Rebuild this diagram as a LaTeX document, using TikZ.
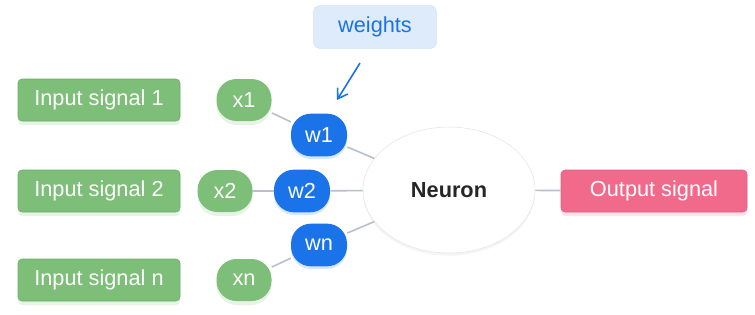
\documentclass[tikz,border=0pt]{standalone}
\usepackage{fontspec}
\setmainfont{Liberation Sans}
\usetikzlibrary{arrows.meta,shadows,shapes.geometric}
\definecolor{sigGreen}{HTML}{7DBE78}
\definecolor{sigGreenLine}{HTML}{6AAE66}
\definecolor{wBlue}{HTML}{1A73E8}
\definecolor{outPink}{HTML}{F26A8B}
\definecolor{tagBlue}{HTML}{DDEBFB}
\definecolor{tagLine}{HTML}{D2E3F8}
\definecolor{linkGray}{HTML}{B9BFC9}
\begin{document}
\begin{tikzpicture}[x=0.75pt, y=-0.75pt,
  signal/.style={draw=sigGreenLine, fill=sigGreen, text=white, rounded corners=3pt, minimum width=121.5pt, minimum height=31.5pt, inner sep=0pt, font=\fontsize{16.3pt}{19pt}\selectfont, drop shadow={shadow xshift=0pt, shadow yshift=-3pt, opacity=0.18, fill=sigGreen}},
  xin/.style={fill=sigGreen, text=white, rounded corners=15pt, minimum width=41.25pt, minimum height=31.5pt, inner sep=0pt, font=\fontsize{16.3pt}{19pt}\selectfont, drop shadow={shadow xshift=0pt, shadow yshift=-3pt, opacity=0.18, fill=sigGreen}},
  weight/.style={fill=wBlue, text=white, rounded corners=15pt, minimum width=42pt, minimum height=32pt, inner sep=0pt, font=\fontsize{16.3pt}{19pt}\selectfont, drop shadow={shadow xshift=0pt, shadow yshift=-2pt, opacity=0.18, fill=wBlue}},
  link/.style={draw=linkGray, line width=1.2pt}]
\useasboundingbox (0,0) rectangle (755,314);
\node[signal] (s1) at (99,100) {Input signal 1};
\node[signal] (s2) at (99,191) {Input signal 2};
\node[signal] (sn) at (99,280) {Input signal n};
\node[xin] (x1) at (244,100) {x1};
\node[xin] (x2) at (225,191) {x2};
\node[xin] (xn) at (244,280) {xn};
\node[weight] (w1) at (319,135) {w1};
\node[weight] (w2) at (302,191) {w2};
\node[weight] (wn) at (319,245) {wn};
\node[draw=black!10, fill=white, ellipse, minimum width=129pt, minimum height=94.5pt, inner sep=0pt, font=\fontsize{16.3pt}{19pt}\selectfont\bfseries, text=black!85, drop shadow={shadow xshift=0pt, shadow yshift=-2pt, opacity=0.1, fill=black!40}] (neuron) at (449,190) {Neuron};
\node[draw=outPink!90!black, fill=outPink, text=white, rounded corners=3pt, minimum width=139.5pt, minimum height=31.5pt, inner sep=0pt, font=\fontsize{16.3pt}{19pt}\selectfont, drop shadow={shadow xshift=0pt, shadow yshift=-3pt, opacity=0.18, fill=outPink}] (out) at (654,191) {Output signal};
\node[draw=tagLine, fill=tagBlue, text=wBlue, rounded corners=4pt, minimum width=92pt, minimum height=32pt, inner sep=0pt, font=\fontsize{16.3pt}{19pt}\selectfont] (tag) at (375,27) {weights};
\coordinate (tagarrow) at (360,63);
\coordinate (tagtip) at (337,100);
\draw[link] (x1) -- (w1);
\draw[link] (x2) -- (w2);
\draw[link] (xn) -- (wn);
\draw[link] (w1) -- (neuron);
\draw[link] (w2) -- (neuron);
\draw[link] (wn) -- (neuron);
\draw[link] (neuron) -- (out);
\draw[wBlue, line width=1.2pt, -{Straight Barb[length=7pt, width=9pt]}] (tagarrow) -- (tagtip);
\end{tikzpicture}
\end{document}
